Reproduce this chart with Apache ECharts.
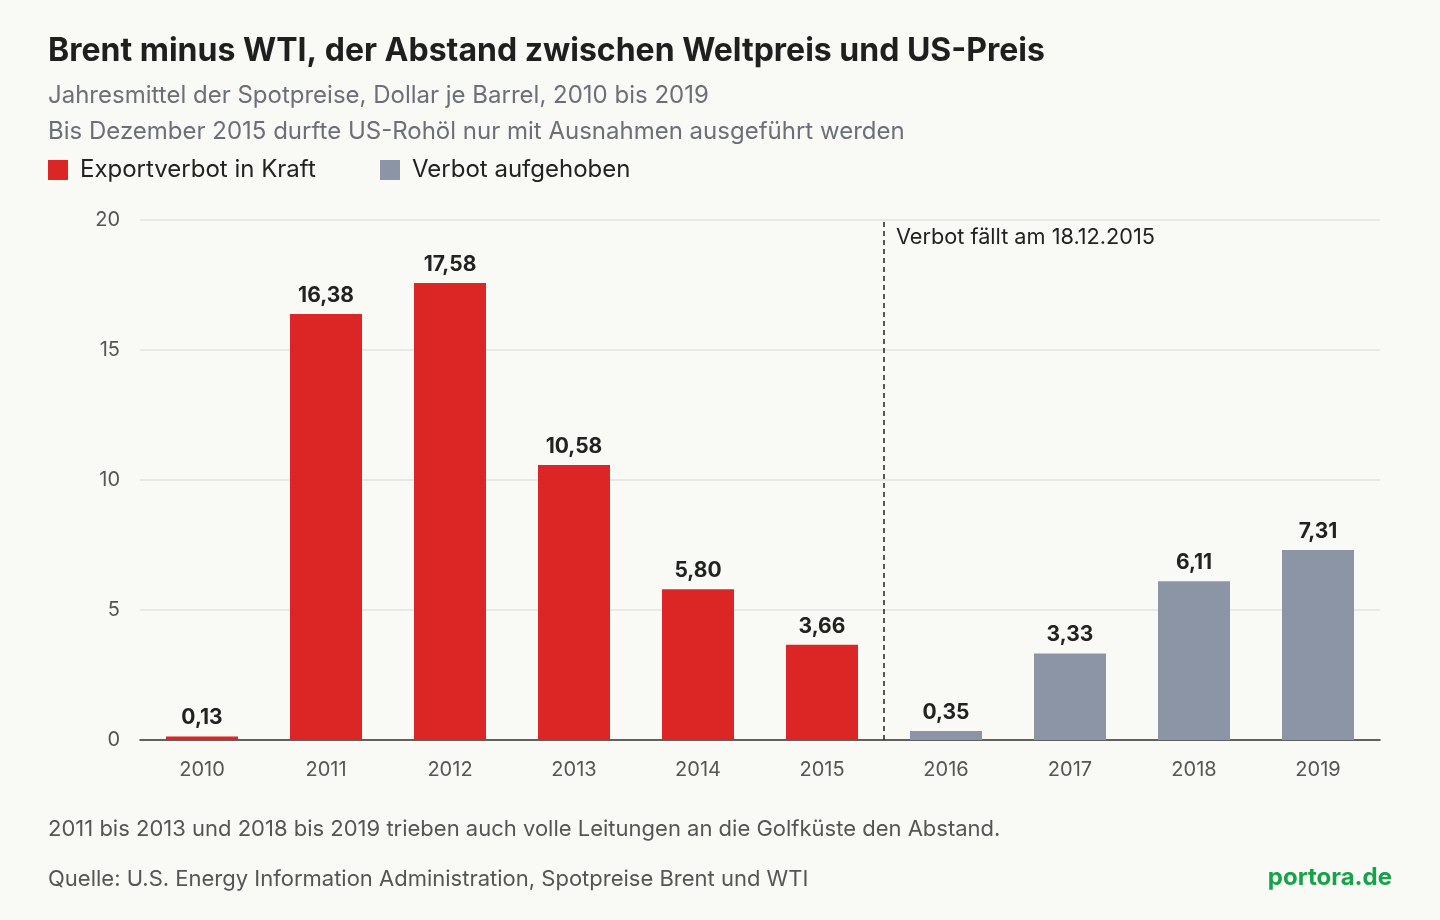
<!DOCTYPE html>
<html><head><meta charset="utf-8">
<script src="https://cdn.jsdelivr.net/npm/echarts@6/dist/echarts.min.js"></script>
<style>html,body{margin:0;background:#f9f9f6}#c{width:1440px;height:920px}</style>
</head><body><div id="c"></div>
<script>
const years=['2010','2011','2012','2013','2014','2015','2016','2017','2018','2019']
const spread=[0.13,16.38,17.58,10.58,5.80,3.66,0.35,3.33,6.11,7.31]
const banned=[1,1,1,1,1,1,0,0,0,0]
const RED='#dc2626',GREY='#8b95a5'
const font='Inter, "Noto Sans", sans-serif'
const chart=echarts.init(document.getElementById('c'))
chart.setOption({
  backgroundColor:'#f9f9f6',
  textStyle:{fontFamily:font},
  grid:{left:140,right:60,top:220,bottom:180},
  xAxis:[{type:'category',data:years,axisTick:{show:false},
    axisLine:{lineStyle:{color:'#333',width:1.5}},
    axisLabel:{fontSize:20,color:'#555',margin:20,fontFamily:font}},
    {type:'value',min:-0.5,max:9.5,show:false}],
  yAxis:{type:'value',min:0,max:20,interval:5,axisLine:{show:false},axisTick:{show:false},
    axisLabel:{fontSize:20,color:'#555',margin:20,fontFamily:font},
    splitLine:{lineStyle:{color:'#e2e2e2',width:1.5}}},
  series:[{type:'bar',barWidth:72,
    data:spread.map((v,i)=>({value:v,itemStyle:{color:banned[i]?RED:GREY}})),
    label:{show:true,position:'top',fontSize:21,fontWeight:'bold',color:'#222',distance:8,fontFamily:font,
      formatter:p=>p.value.toFixed(2).replace('.',',')}},
   {type:'scatter',xAxisIndex:1,data:[],silent:true,
    markLine:{symbol:'none',silent:true,label:{show:false},
      lineStyle:{type:[5,4],color:'#222',width:1.5},data:[{xAxis:5.5}]}}],
  graphic:[
    {type:'text',left:48,top:35,style:{text:'Brent minus WTI, der Abstand zwischen Weltpreis und US-Preis',fontSize:32,fontWeight:'bold',fill:'#1f1f1f',fontFamily:font}},
    {type:'text',left:48,top:84,style:{text:'Jahresmittel der Spotpreise, Dollar je Barrel, 2010 bis 2019',fontSize:24,fill:'#6b6f78',fontFamily:font}},
    {type:'text',left:48,top:120,style:{text:'Bis Dezember 2015 durfte US-Rohöl nur mit Ausnahmen ausgeführt werden',fontSize:24,fill:'#6b6f78',fontFamily:font}},
    {type:'rect',left:48,top:160,shape:{width:20,height:20},style:{fill:RED}},
    {type:'text',left:80,top:158,style:{text:'Exportverbot in Kraft',fontSize:24,fill:'#222',fontFamily:font}},
    {type:'rect',left:380,top:160,shape:{width:20,height:20},style:{fill:GREY}},
    {type:'text',left:412,top:158,style:{text:'Verbot aufgehoben',fontSize:24,fill:'#222',fontFamily:font}},
    {type:'text',left:896,top:226,style:{text:'Verbot fällt am 18.12.2015',fontSize:21.7,fill:'#222',fontFamily:font}},
    {type:'text',left:48,top:818,style:{text:'2011 bis 2013 und 2018 bis 2019 trieben auch volle Leitungen an die Golfküste den Abstand.',fontSize:22,fill:'#555',fontFamily:font}},
    {type:'text',left:48,top:868,style:{text:'Quelle: U.S. Energy Information Administration, Spotpreise Brent und WTI',fontSize:22,fill:'#555',fontFamily:font}},
    {type:'text',right:48,top:866,style:{text:'portora.de',fontSize:24,fontWeight:'bold',fill:'#16a34a',fontFamily:font}}
  ]
})
</script></body></html>
